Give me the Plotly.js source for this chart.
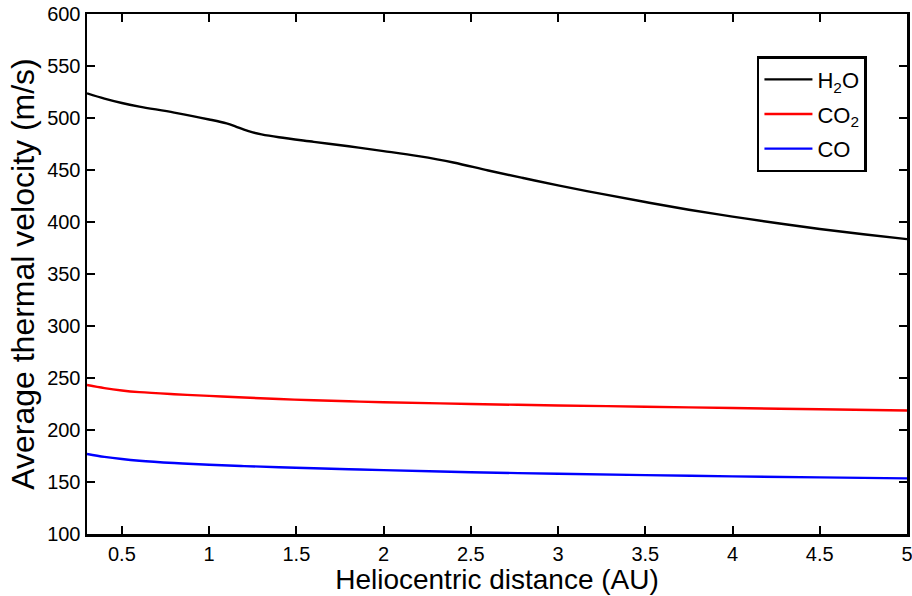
<!DOCTYPE html>
<html>
<head>
<meta charset="utf-8">
<script src="https://cdn.plot.ly/plotly-3.0.1.min.js"></script>
<style>html,body{margin:0;padding:0;background:#fff;}#chart{width:912px;height:596px;}</style>
</head>
<body>
<div id="chart"></div>
<script>
const xH2O = [0.3, 0.4, 0.5, 0.6, 0.8, 1.0, 1.1, 1.15, 1.2, 1.25, 1.3, 1.4, 1.6, 1.8, 2.0, 2.2, 2.4, 2.6, 2.8, 3.0, 3.25, 3.5, 3.75, 4.0, 4.25, 4.5, 4.75, 5.0];
const vH2O = [523.7, 518.6, 514.4, 511, 505.2, 498.6, 494.8, 492.0, 488.8, 486.2, 484.3, 481.5, 477.1, 472.8, 468.2, 463.3, 457.2, 449.5, 442.3, 435.2, 427.0, 419.2, 411.8, 405.2, 399.0, 393.3, 388.2, 383.5];
const xCO = [0.3, 0.4, 0.5, 0.6, 0.8, 1.0, 1.2, 1.4, 1.6, 1.8, 2.0, 2.5, 3.0, 3.5, 4.0, 4.5, 5.0];
const vCO2 = [243.3, 240.3, 238.0, 236.4, 234.4, 232.8, 231.2, 229.8, 228.6, 227.6, 226.7, 225.0, 223.6, 222.4, 221.1, 219.9, 218.7];
const vCO = [177.0, 174.2, 172.1, 170.5, 168.3, 166.6, 165.3, 164.2, 163.2, 162.3, 161.4, 159.4, 157.9, 156.6, 155.4, 154.4, 153.5];
const names = ['H<sub>2</sub>O', 'CO<sub>2</sub>', 'CO'];
const colors = ['#000000', '#ff0000', '#0000ff'];
const xTicks = [0.5, 1, 1.5, 2, 2.5, 3, 3.5, 4, 4.5, 5];
const yTicks = [100, 150, 200, 250, 300, 350, 400, 450, 500, 550, 600];

const traces = [
  {x: xH2O, y: vH2O, name: names[0]},
  {x: xCO, y: vCO2, name: names[1]},
  {x: xCO, y: vCO, name: names[2]}
].map((t, i) => Object.assign(t, {type: 'scatter', mode: 'lines', legendgroup: 'g' + i, line: {color: colors[i], width: 2.4, shape: 'spline', smoothing: 1}}));

const font = {family: 'Liberation Sans, Arial, Helvetica, sans-serif', color: '#000'};
const axisCommon = {
  showgrid: false, zeroline: false, showline: true, linecolor: '#000', linewidth: 2.5,
  ticks: 'inside', ticklen: 8, tickwidth: 2, tickcolor: '#000', mirror: 'ticks',
  ticklabeloverflow: 'allow',
  tickfont: Object.assign({size: 20}, font)
};
const layout = {
  width: 912, height: 596,
  margin: {l: 87, r: 5, t: 14, b: 62},
  paper_bgcolor: '#fff', plot_bgcolor: '#fff',
  font: font,
  showlegend: true,
  legend: {
    x: 0.817, y: 0.919, xanchor: 'left', yanchor: 'top',
    bordercolor: '#000', borderwidth: 2.5, bgcolor: '#fff',
    itemwidth: 48, tracegroupgap: 3,
    font: Object.assign({size: 22}, font)
  },
  xaxis: Object.assign({}, axisCommon, {
    range: [0.3, 5], tickvals: xTicks, ticktext: xTicks.map(String),
    title: {text: 'Heliocentric distance (AU)', font: Object.assign({size: 28}, font), standoff: 5}
  }),
  yaxis: Object.assign({}, axisCommon, {
    range: [100, 600], tickvals: yTicks, ticktext: yTicks.map(String),
    title: {text: 'Average thermal velocity (m/s)', font: Object.assign({size: 32}, font), standoff: 3}
  })
};
Plotly.newPlot('chart', traces, layout, {displayModeBar: false, staticPlot: true});
</script>
</body>
</html>
